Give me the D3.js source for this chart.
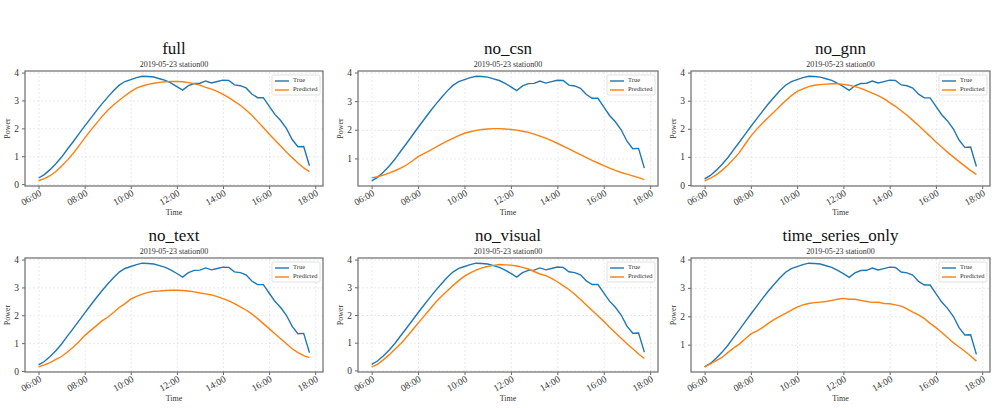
<!DOCTYPE html>
<html>
<head>
<meta charset="utf-8">
<script src="https://cdn.jsdelivr.net/npm/d3@7"></script>
<style>
  body { margin: 0; background: #fff; }
  svg { display: block; font-family: "Liberation Serif", "DejaVu Serif", serif; }
  .grid line { stroke: #dcdcdc; stroke-dasharray: 2,2; stroke-width: 0.6; }
  .grid path { display: none; }
  .axis path, .axis line { stroke: #666; }
  .axis text { fill: #333; font-size: 9.5px; font-family: "Liberation Serif", "DejaVu Serif", serif; }
</style>
</head>
<body>
<svg width="998" height="408"></svg>
<script>
// times 06:00 -> 17:45, 15 minute steps
var times = d3.range(0, 48).map(function(i) {
    var m = 6 * 60 + i * 15;
    return d3.format("02")(Math.floor(m / 60)) + ":" + d3.format("02")(m % 60);
});
var subtitle = "2019-05-23 station00";
var models = ["full", "no_csn", "no_gnn", "no_text", "no_visual", "time_series_only"];

var trueVals = [0.22,0.34,0.52,0.73, 0.97,1.25,1.52,1.8, 2.08,2.35,2.62,2.88, 3.12,3.35,3.55,3.68,
    3.75,3.82,3.87,3.86, 3.84,3.78,3.72,3.62, 3.5,3.37,3.53,3.61, 3.62,3.7,3.63,3.68,
    3.73,3.72,3.56,3.53, 3.45,3.23,3.1,3.1, 2.8,2.5,2.28,2.0, 1.6,1.34,1.35,0.66];

var predFull = [0.12,0.2,0.3,0.45, 0.65,0.86,1.1,1.37, 1.65,1.92,2.17,2.42, 2.65,2.84,3.01,3.17,
    3.32,3.44,3.52,3.58, 3.62,3.65,3.67,3.68, 3.68,3.67,3.64,3.6, 3.55,3.47,3.41,3.33,
    3.22,3.1,2.97,2.83, 2.66,2.47,2.25,2.03, 1.8,1.58,1.37,1.15, 0.95,0.76,0.58,0.45];

var predNoCsn = [0.32,0.36,0.42,0.49, 0.57,0.66,0.77,0.91, 1.06,1.17,1.27,1.39, 1.5,1.6,1.7,1.8,
    1.88,1.93,1.98,2.01, 2.03,2.04,2.04,2.03, 2.01,1.99,1.95,1.91, 1.85,1.78,1.71,1.62,
    1.53,1.43,1.33,1.23, 1.13,1.03,0.93,0.84, 0.75,0.66,0.58,0.51, 0.45,0.39,0.33,0.26];

var predNoGnn = [0.15,0.24,0.36,0.52, 0.7,0.92,1.15,1.45, 1.74,1.98,2.2,2.4, 2.6,2.8,3.0,3.18,
    3.33,3.42,3.5,3.55, 3.57,3.59,3.6,3.6, 3.58,3.55,3.5,3.44, 3.36,3.27,3.18,3.07,
    2.93,2.8,2.64,2.48, 2.3,2.12,1.92,1.73, 1.53,1.35,1.17,1.0, 0.83,0.67,0.51,0.38];

var predNoText = [0.15,0.22,0.3,0.42, 0.52,0.68,0.85,1.05, 1.27,1.45,1.62,1.8, 1.93,2.1,2.28,2.42,
    2.58,2.68,2.76,2.82, 2.86,2.87,2.89,2.9, 2.9,2.89,2.87,2.84, 2.8,2.77,2.73,2.67,
    2.6,2.52,2.42,2.3, 2.19,2.05,1.88,1.7, 1.52,1.34,1.16,0.98, 0.8,0.66,0.55,0.48];

var predNoVisual = [0.13,0.22,0.38,0.56, 0.76,0.96,1.2,1.45, 1.7,1.95,2.2,2.45, 2.67,2.87,3.06,3.24,
    3.4,3.52,3.62,3.7, 3.75,3.79,3.82,3.81, 3.8,3.77,3.72,3.66, 3.57,3.48,3.42,3.32,
    3.2,3.06,2.92,2.75, 2.56,2.36,2.16,1.97, 1.77,1.56,1.36,1.16, 0.96,0.78,0.59,0.43];

var predTsOnly = [0.22,0.32,0.44,0.55, 0.72,0.88,1.02,1.2, 1.38,1.48,1.6,1.75, 1.88,2.0,2.1,2.22,
    2.32,2.4,2.45,2.48, 2.5,2.52,2.56,2.6, 2.63,2.6,2.6,2.56, 2.52,2.49,2.5,2.45,
    2.44,2.4,2.36,2.26, 2.15,2.05,1.92,1.75, 1.6,1.43,1.25,1.07, 0.92,0.77,0.6,0.42];

var predicted = [predFull, predNoCsn, predNoGnn, predNoText, predNoVisual, predTsOnly];

var trueColor = "#1f77b4", predColor = "#ff7f0e";
var cols = [{l: 25, r: 323}, {l: 358, r: 658}, {l: 691, r: 990}];
var rows = [{t: 71, b: 186}, {t: 258, b: 372}];

var parse = d3.timeParse("%Y-%m-%d %H:%M");
var dates = times.map(function(t) { return parse("2019-05-23 " + t); });

var svg = d3.select("svg");

models.forEach(function(name, k) {
    var c = cols[k % 3], r = rows[Math.floor(k / 3)];
    var w = c.r - c.l, h = r.b - r.t;
    var pred = predicted[k];

    var t0 = dates[0].getTime(), t1 = dates[dates.length - 1].getTime();
    var padT = (t1 - t0) * 0.05;
    var x = d3.scaleTime().domain([new Date(t0 - padT), new Date(t1 + padT)]).range([0, w]);

    var all = trueVals.concat(pred);
    var lo = d3.min(all), hi = d3.max(all), pad = (hi - lo) * 0.05;
    var y = d3.scaleLinear().domain([lo - pad, hi + pad]).range([h, 0]);

    var g = svg.append("g").attr("transform", "translate(" + c.l + "," + r.t + ")");

    var xTicks = d3.timeHour.every(2);

    // grid
    g.append("g").attr("class", "grid")
     .attr("transform", "translate(0," + h + ")")
     .call(d3.axisBottom(x).ticks(xTicks).tickSize(-h).tickFormat(""));
    g.append("g").attr("class", "grid")
     .call(d3.axisLeft(y).ticks(5).tickSize(-w).tickFormat(""));

    var line = d3.line()
        .x(function(d, i) { return x(dates[i]); })
        .y(function(d) { return y(d); });

    g.append("path").datum(trueVals)
     .attr("fill", "none").attr("stroke", trueColor).attr("stroke-width", 1.4)
     .attr("d", line);
    g.append("path").datum(pred)
     .attr("fill", "none").attr("stroke", predColor).attr("stroke-width", 1.4)
     .attr("d", line);

    // axes
    var xa = g.append("g").attr("class", "axis")
     .attr("transform", "translate(0," + h + ")")
     .call(d3.axisBottom(x).ticks(xTicks).tickSize(3).tickFormat(d3.timeFormat("%H:%M")));
    xa.attr("font-family", null).attr("font-size", null);
    xa.select(".domain").remove();
    xa.selectAll("text")
      .attr("text-anchor", "end")
      .attr("dy", null).attr("y", 0)
      .attr("transform", "translate(2,7) rotate(-30)")
      .attr("dominant-baseline", "middle");

    var ya = g.append("g").attr("class", "axis")
     .call(d3.axisLeft(y).ticks(5).tickSize(3).tickFormat(d3.format("d")));
    ya.attr("font-family", null).attr("font-size", null);
    ya.select(".domain").remove();

    // frame
    g.append("rect").attr("width", w).attr("height", h)
     .attr("fill", "none").attr("stroke", "#777").attr("stroke-width", 1.3);

    // titles
    g.append("text").attr("x", w / 2).attr("y", -17)
     .attr("text-anchor", "middle").style("font-size", "17px").attr("fill", "#111")
     .text(name);
    g.append("text").attr("x", w / 2).attr("y", -4)
     .attr("text-anchor", "middle").style("font-size", "8px").attr("fill", "#333")
     .text(subtitle);

    g.append("text").attr("x", w / 2).attr("y", h + 29)
     .attr("text-anchor", "middle").style("font-size", "8px").attr("fill", "#333")
     .text("Time");
    g.append("text").attr("transform", "translate(-15," + (h / 2) + ") rotate(-90)")
     .attr("text-anchor", "middle").style("font-size", "8px").attr("fill", "#333")
     .text("Power");

    // legend
    var lg = g.append("g").attr("transform", "translate(" + (w - 51) + ",4)");
    lg.append("rect").attr("width", 48).attr("height", 20).attr("rx", 1.5)
      .attr("fill", "#fff").attr("fill-opacity", 0.85).attr("stroke", "#ccc").attr("stroke-width", 0.6);
    [["True", trueColor], ["Predicted", predColor]].forEach(function(e, i) {
        lg.append("line").attr("x1", 3).attr("x2", 17)
          .attr("y1", 6 + i * 9).attr("y2", 6 + i * 9)
          .attr("stroke", e[1]).attr("stroke-width", 1.4);
        lg.append("text").attr("x", 21).attr("y", 6 + i * 9)
          .attr("dominant-baseline", "middle").style("font-size", "6.5px").attr("fill", "#333")
          .text(e[0]);
    });
});
</script>
</body>
</html>
